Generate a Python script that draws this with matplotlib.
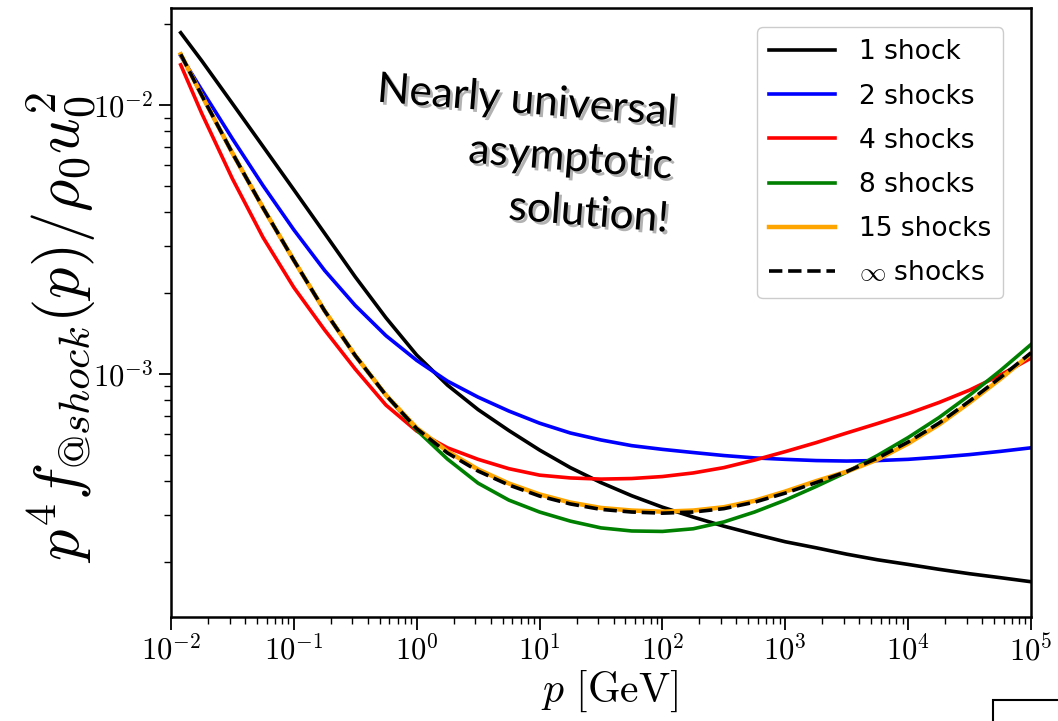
import matplotlib
matplotlib.use('Agg')
import matplotlib.pyplot as plt
import matplotlib.patheffects as pe
from matplotlib.patches import Rectangle

plt.rcParams['mathtext.fontset'] = 'cm'
plt.rcParams['font.family'] = 'DejaVu Sans'

# momentum grid [GeV], quarter-decade steps
p = [0.012, 0.0178, 0.0316, 0.0562, 0.1, 0.178, 0.316, 0.562,
     1.0, 1.78, 3.16, 5.62, 10.0, 17.8, 31.6, 56.2,
     100.0, 178.0, 316.0, 562.0, 1000.0, 1780.0, 3160.0, 5620.0,
     1.0e4, 1.78e4, 3.16e4, 5.62e4, 1.0e5]

# p^4 f / rho0 u0^2
f_1 = [0.0186, 0.01463, 0.01015, 0.00702, 0.00485, 0.00334, 0.00230, 0.00162,
       1.177e-3, 9.10e-4, 7.38e-4, 6.17e-4, 5.22e-4, 4.49e-4, 3.95e-4, 3.53e-4,
       3.20e-4, 2.94e-4, 2.72e-4, 2.54e-4, 2.38e-4, 2.26e-4, 2.14e-4, 2.04e-4,
       1.96e-4, 1.88e-4, 1.81e-4, 1.75e-4, 1.69e-4]
f_2 = [0.01526, 0.0114, 0.00751, 0.00502, 0.00344, 0.00243, 0.00180, 0.00139,
       1.125e-3, 9.42e-4, 8.21e-4, 7.29e-4, 6.57e-4, 6.04e-4, 5.69e-4, 5.42e-4,
       5.25e-4, 5.11e-4, 4.98e-4, 4.88e-4, 4.82e-4, 4.77e-4, 4.75e-4, 4.77e-4,
       4.82e-4, 4.91e-4, 5.02e-4, 5.16e-4, 5.32e-4]
f_4 = [0.01413, 0.00932, 0.00533, 0.00322, 0.00210, 0.00146, 1.044e-3, 7.67e-4,
       6.14e-4, 5.32e-4, 4.82e-4, 4.45e-4, 4.21e-4, 4.11e-4, 4.07e-4, 4.09e-4,
       4.16e-4, 4.29e-4, 4.49e-4, 4.79e-4, 5.15e-4, 5.56e-4, 6.04e-4, 6.55e-4,
       7.13e-4, 7.84e-4, 8.72e-4, 9.92e-4, 1.147e-3]
f_8 = [0.01547, 0.01088, 0.00664, 0.00415, 0.00265, 0.00172, 1.172e-3, 8.35e-4,
       6.19e-4, 4.83e-4, 3.93e-4, 3.40e-4, 3.07e-4, 2.84e-4, 2.68e-4, 2.61e-4,
       2.60e-4, 2.66e-4, 2.82e-4, 3.07e-4, 3.40e-4, 3.82e-4, 4.32e-4, 4.98e-4,
       5.81e-4, 6.89e-4, 8.35e-4, 1.030e-3, 1.289e-3]
f_15 = [0.01547, 0.01088, 0.00664, 0.00415, 0.00265, 0.00172, 1.172e-3, 8.35e-4,
        6.30e-4, 5.16e-4, 4.42e-4, 3.92e-4, 3.57e-4, 3.33e-4, 3.18e-4, 3.11e-4,
        3.08e-4, 3.11e-4, 3.20e-4, 3.38e-4, 3.66e-4, 4.00e-4, 4.34e-4, 4.81e-4,
        5.52e-4, 6.49e-4, 7.84e-4, 9.59e-4, 1.192e-3]
f_inf = [0.01547, 0.01088, 0.00664, 0.00415, 0.00265, 0.00172, 1.172e-3, 8.35e-4,
         6.27e-4, 5.09e-4, 4.36e-4, 3.87e-4, 3.52e-4, 3.29e-4, 3.14e-4, 3.07e-4,
         3.04e-4, 3.07e-4, 3.16e-4, 3.34e-4, 3.61e-4, 3.95e-4, 4.34e-4, 4.87e-4,
         5.59e-4, 6.57e-4, 7.94e-4, 9.71e-4, 1.200e-3]

fig = plt.figure(figsize=(10.58, 7.21), dpi=100)
ax = fig.add_axes([0.1616, 0.1443, 0.8129, 0.8447])

lw = 2.6
ax.plot(p, f_1, color='black', lw=lw, label='1 shock')
ax.plot(p, f_2, color='blue', lw=lw, label='2 shocks')
ax.plot(p, f_4, color='red', lw=lw, label='4 shocks')
ax.plot(p, f_8, color='green', lw=lw, label='8 shocks')
ax.plot(p, f_15, color='orange', lw=lw + 0.6, label='15 shocks')
ax.plot(p, f_inf, color='black', lw=lw, ls='--', label=r'$\infty$ shocks')

ax.set_xscale('log')
ax.set_yscale('log')
ax.set_xlim(1e-2, 1e5)
ax.set_ylim(1.25e-4, 2.3e-2)

xt = [1e-2, 1e-1, 1e0, 1e1, 1e2, 1e3, 1e4, 1e5]
ax.set_xticks(xt, labels=[r'$10^{%d}$' % e for e in range(-2, 6)])
ax.set_yticks([1e-3, 1e-2], labels=[r'$10^{-3}$', r'$10^{-2}$'])
ax.tick_params(which='major', labelsize=22, length=9, width=1.3)
ax.tick_params(which='minor', length=5, width=1)
for s in ax.spines.values():
    s.set_linewidth(1.8)

ax.set_xlabel(r'$p\ [\mathrm{GeV}]$', fontsize=30)
ax.xaxis.set_label_coords(0.51, -0.085)
ax.set_ylabel(r'$p^4 f_{@shock}(p)/\rho_0 u_0^2$', fontsize=45)
ax.yaxis.set_label_coords(-0.084, 0.476)

leg = ax.legend(loc='upper right', bbox_to_anchor=(0.9674, 0.968),
                fontsize=19, handlelength=2.5, handletextpad=0.9,
                labelspacing=0.69, borderpad=0.45, borderaxespad=0,
                framealpha=1, edgecolor='#cccccc', fancybox=True)

txt = fig.text(0.641, 0.902, 'Nearly universal\nasymptotic\nsolution!',
               ha='right', va='top', fontsize=30.5, family='Lato',
               linespacing=1.5, rotation=-4.5, multialignment='right')
txt.set_path_effects([pe.withSimplePatchShadow(offset=(2, -2), alpha=0.3)])

fig.patches.append(Rectangle((993 / 1058, -0.01), 0.1, 21 / 721 + 0.01,
                             transform=fig.transFigure, facecolor='white',
                             edgecolor='black', lw=1.5))

fig.savefig('out.png', dpi=100)
